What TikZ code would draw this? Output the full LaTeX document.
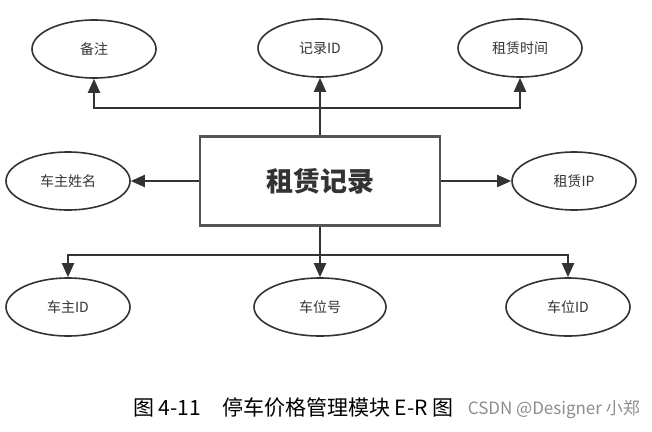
\documentclass[tikz,border=0pt]{standalone}
\usepackage{fontspec}
\setmainfont{Noto Sans CJK SC}
\newfontfamily\capfont{Noto Sans CJK SC}
\usetikzlibrary{shapes.geometric,arrows.meta}
\definecolor{linegray}{HTML}{333333}
\definecolor{boxgray}{HTML}{555555}
\tikzset{
  er/.style={
    x=1pt, y=-1pt,
    attr/.style={ellipse,draw=linegray,line width=1.6pt,minimum width=124pt,minimum height=58pt,
        inner sep=0pt,text=linegray,font=\fontsize{14}{16}\selectfont},
    entity/.style={rectangle,draw=boxgray,line width=2.4pt,minimum width=240pt,minimum height=89pt,
        text=linegray,font=\fontsize{27}{30}\selectfont\bfseries},
    link/.style={draw=linegray,line width=2pt},
    arr/.style={link,-{Triangle[length=14pt,width=12pt]}}
  }
}
\begin{document}
\begin{tikzpicture}[er]
    \useasboundingbox (0,0) rectangle (652,431);
    \node[entity] (zl) at (320,181) {租赁记录};
    \node[attr] (bz) at (94,49) {备注};
    \node[attr] (jlid) at (320,48) {记录ID};
    \node[attr] (zlsj) at (520,48) {租赁时间};
    \node[attr] (czxm) at (68,181) {车主姓名};
    \node[attr] (zlip) at (574,181) {租赁IP};
    \node[attr] (czid) at (68,307) {车主ID};
    \node[attr,minimum width=132pt] (cwh) at (320,307) {车位号};
    \node[attr] (cwid) at (568,307) {车位ID};
    \coordinate (up) at (320,108);
    \coordinate (down) at (320,255);
    % top
    \draw[arr] (zl.north) -- (jlid.south);
    \draw[arr] (up) -| (bz.south);
    \draw[arr] (up) -| (zlsj.south);
    % sides
    \draw[arr] (zl.west) -- (czxm.east);
    \draw[arr] (zl.east) -- (zlip.west);
    % bottom
    \draw[arr] (zl.south) -- (cwh.north);
    \draw[arr] (down) -| (czid.north);
    \draw[arr] (down) -| (cwid.north);
    \node[font=\capfont\fontsize{21}{23}\selectfont,anchor=west,inner sep=0pt] (cap) at (133,408) {图 4-11\quad 停车价格管理模块 E-R 图};
    \node[font=\fontsize{17}{19}\selectfont,text=black!45,anchor=east,inner sep=0pt] (wm) at (640,410) {CSDN @Designer 小郑};
\end{tikzpicture}
\end{document}
